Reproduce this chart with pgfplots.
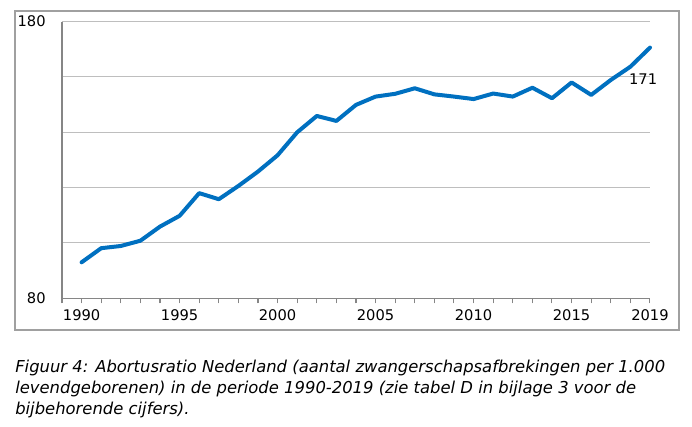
\documentclass[border=0pt]{standalone}
\usepackage{pgfplots}
\pgfplotsset{compat=1.18}
\usepackage{fontspec}
\setmainfont{DejaVu Sans}
\definecolor{lineblue}{RGB}{0,112,192}
\definecolor{gridgray}{RGB}{190,190,190}
\definecolor{axgray}{RGB}{134,134,134}
\definecolor{framegray}{RGB}{160,160,160}
\begin{document}
\begin{tikzpicture}
\path (0,0) rectangle (519pt,319.5pt);
\draw[framegray, line width=1.1pt] (11.25pt,72pt) rectangle (509.25pt,311.25pt);
\begin{axis}[
  at={(46.5pt,95.8pt)}, anchor=south west,
  scale only axis, width=441pt, height=207.5pt,
  xmin=1989, xmax=2019, ymin=80, ymax=180,
  axis x line=bottom, axis y line=left,
  axis line style={axgray, line width=0.8pt, -},
  xtick={1989,...,2019},
  xticklabels={,1990,,,,,1995,,,,,2000,,,,,2005,,,,,2010,,,,,2015,,,,2019},
  ytick={80,100,120,140,160,180},
  yticklabels={80,,,,,180},
  ymajorgrids, grid style={gridgray, line width=0.8pt},
  xtick style={axgray, line width=0.8pt},
  x tick label style={font=\fontsize{11}{13}\selectfont, yshift=-1pt},
  y tick label style={font=\fontsize{11}{13}\selectfont, xshift=-5pt},
  tick align=outside,
  major tick length=3.75pt,
  ytick style={draw=none},
  /pgf/number format/assume math mode=true,
  clip=false,
]
\addplot[lineblue, line width=3pt, line join=round, line cap=round] coordinates {
(1990,93.0) (1991,98.1) (1992,98.9) (1993,100.8) (1994,105.9) (1995,109.8)
(1996,118.0) (1997,115.8) (1998,120.6) (1999,125.8) (2000,131.7) (2001,140.0)
(2002,145.9) (2003,144.1) (2004,149.9) (2005,152.9) (2006,153.9) (2007,155.9)
(2008,153.7) (2009,152.9) (2010,152.0) (2011,154.0) (2012,152.9) (2013,156.1)
(2014,152.3) (2015,158.0) (2016,153.5) (2017,158.9) (2018,163.7) (2019,170.6)
};
\node[font=\fontsize{11}{13}\selectfont, inner sep=0pt] at (axis cs:2018.65,159.3) {171};
\end{axis}
\node[anchor=base west, inner sep=0pt, font=\fontsize{12.3}{14}\selectfont\itshape] at (11.25pt,40.5pt) {Figuur 4: Abortusratio Nederland (aantal zwangerschapsafbrekingen per 1.000};
\node[anchor=base west, inner sep=0pt, font=\fontsize{12.3}{14}\selectfont\itshape] at (11.25pt,24.75pt) {levendgeborenen) in de periode 1990-2019 (zie tabel D in bijlage 3 voor de};
\node[anchor=base west, inner sep=0pt, font=\fontsize{12.3}{14}\selectfont\itshape] at (11.25pt,9pt) {bijbehorende cijfers).};
\end{tikzpicture}
\end{document}
